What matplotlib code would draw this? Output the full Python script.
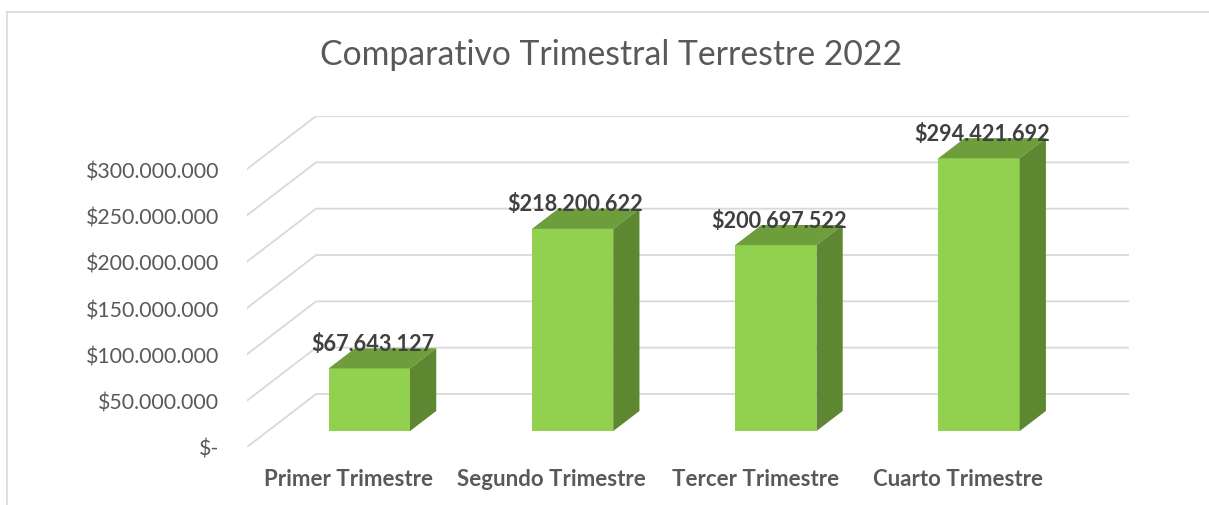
import numpy as np
import matplotlib
matplotlib.use("Agg")
from matplotlib import pyplot as plt
from matplotlib.patches import Polygon
from matplotlib.lines import Line2D

categories = ["Primer Trimestre", "Segundo Trimestre", "Tercer Trimestre", "Cuarto Trimestre"]
values = [67643127, 218200622, 200697522, 294421692]
ticks = [0, 50000000, 100000000, 150000000, 200000000, 250000000, 300000000]


def money(v):
    if v == 0:
        return "$-"
    return "$" + f"{v:,.0f}".replace(",", ".")


plt.rcParams['font.family'] = ['Lato', 'DejaVu Sans']

W, H = 1209, 506
fig = plt.figure(figsize=(W / 100, H / 100), dpi=100)

# oblique depth of the 3d box, in data units
DX = 0.34
DY = 57.2e6
d0, d1 = 0.30, 0.68   # bar front / back depth fraction
bw = 0.4

# axes: front plane from x=247 to back wall end at 1129, floor front at y=448, top at y=117
left, right, bottom, top = 247, 1129, 448, 117
ax = fig.add_axes([left / W, (H - bottom) / H, (right - left) / W, (bottom - top) / H])
ax.set_xlim(-0.5, 3.5 + DX)
ax.set_ylim(0, 300e6 + DY)
for s in ax.spines.values():
    s.set_visible(False)

grid_c = "#D9D9D9"
for t in ticks:
    ax.plot([-0.5, -0.5 + DX, 3.5 + DX], [t, t + DY, t + DY], color=grid_c, lw=1.3,
            solid_joinstyle='miter', zorder=1)

front_c = "#92D050"
top_c = "#6E9E3B"
side_c = "#5E8731"
for i, v in enumerate(values):
    x0 = i - bw / 2 + d0 * DX
    x1 = x0 + bw
    y0 = d0 * DY
    ox = (d1 - d0) * DX
    oy = (d1 - d0) * DY
    ax.add_patch(Polygon([(x0, y0), (x1, y0), (x1, y0 + v), (x0, y0 + v)],
                         closed=True, fc=front_c, ec='none', zorder=3))
    ax.add_patch(Polygon([(x0, y0 + v), (x1, y0 + v), (x1 + ox, y0 + v + oy), (x0 + ox, y0 + v + oy)],
                         closed=True, fc=top_c, ec='none', zorder=3))
    ax.add_patch(Polygon([(x1, y0), (x1 + ox, y0 + oy), (x1 + ox, y0 + v + oy), (x1, y0 + v)],
                         closed=True, fc=side_c, ec='none', zorder=3))
    ax.annotate(money(v), xy=(i + d0 * DX, y0 + v), xytext=(3, 25), textcoords='offset pixels',
                ha='center', va='center', fontsize=15.6, fontweight='bold', color="#404040", zorder=5)

ax.set_yticks(ticks)
ax.set_yticklabels([money(t) for t in ticks])
ax.set_xticks(range(len(categories)))
ax.set_xticklabels(categories, fontweight='bold')
ax.tick_params(axis='y', length=0, pad=20, labelsize=15.3, labelcolor="#595959")
ax.tick_params(axis='x', length=0, pad=15, labelsize=16, labelcolor="#595959")

fig.text(611 / W, (H - 55) / H, "Comparativo Trimestral Terrestre 2022", ha='center', va='center',
         fontsize=24.3, color="#595959")

# chart frame
fig.add_artist(Line2D([6.5 / W, 1], [(H - 12.5) / H, (H - 12.5) / H], color=grid_c, lw=1.2))
fig.add_artist(Line2D([6.5 / W, 6.5 / W], [0, (H - 12.5) / H], color=grid_c, lw=1.2))

fig.savefig("out.png", dpi=100)
